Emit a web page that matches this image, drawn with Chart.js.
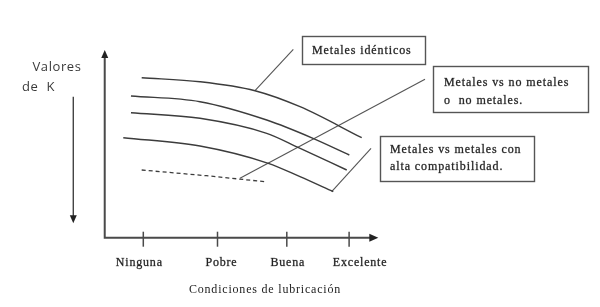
<!DOCTYPE html>
<html>
<head>
<meta charset="utf-8">
<script src="https://cdn.jsdelivr.net/npm/chart.js@4"></script>
<style>
html,body{margin:0;padding:0;background:#fff;}
#c{display:block;}
</style>
</head>
<body>
<canvas id="c" width="600" height="307"></canvas>
<script>
// ---- Data (x: lubrication condition index, y: K value) ----
const categories = ['Ninguna', 'Pobre', 'Buena', 'Excelente'];
const categoryPos = [1, 2.06, 3.05, 3.94];

const curve1X = [0.977, 1.81, 2.596, 3.239, 4.12];
const curve1Y = [3.2, 3.12, 2.94, 2.62, 2.0];
const curve2X = [0.824, 1.81, 2.763, 3.424, 3.943];
const curve2Y = [2.834, 2.72, 2.354, 1.988, 1.654];
const curve3X = [0.824, 1.81, 2.763, 3.21, 3.906];
const curve3Y = [2.5, 2.388, 2.088, 1.808, 1.354];
const curve4X = [0.714, 1.81, 2.786, 3.239, 3.714];
const curve4Y = [2.0, 1.834, 1.488, 1.22, 0.92];
const dashedX = [0.977, 1.9, 2.739];
const dashedY = [1.354, 1.24, 1.12];

// leader lines (curve -> label)
const leaderIdentX = [2.596, 3.143];
const leaderIdentY = [2.94, 3.768];
const leaderNoMetX = [2.381, 5.024];
const leaderNoMetY = [1.188, 3.168];
const leaderCompatX = [3.691, 4.253];
const leaderCompatY = [0.92, 1.788];

const labelIdent = ['Metales idénticos'];
const labelNoMet = ['Metales vs no metales', 'o  no metales.'];
const labelCompat = ['Metales vs metales con', 'alta compatibilidad.'];
const xTitle = 'Condiciones de lubricación';
const yTitle = ['Valores', 'de  K'];

// axis extents in data units
const axisOriginX = 0.449, axisEndX = 4.357;
const axisOriginY = 0, axisEndY = 3.754;
const kArrowX = 0, kArrowTop = 2.82, kArrowBottom = 0.288;

const toPts = (xs, ys) => xs.map((x, i) => ({x: x, y: ys[i]}));

const LINE = '#3c3c3c';
function lineDs(xs, ys, opts) {
  return Object.assign({
    data: toPts(xs, ys), showLine: true, pointRadius: 0, borderColor: LINE,
    borderWidth: 1.4, cubicInterpolationMode: 'monotone', fill: false
  }, opts || {});
}

function serifText(ctx, s, x, y) {
  ctx.fillText(s, x, y);
  ctx.strokeText(s, x, y);
}

const diagramPlugin = {
  id: 'diagram',
  afterDatasetsDraw(chart, args, o) {
    const ctx = chart.ctx;
    const sx = chart.scales.x, sy = chart.scales.y;
    const X = v => sx.getPixelForValue(v), Y = v => sy.getPixelForValue(v);
    ctx.save();
    // axes
    ctx.strokeStyle = '#4a4a4a';
    ctx.fillStyle = '#222';
    ctx.lineWidth = 2;
    const ox = X(axisOriginX), oy = Y(axisOriginY);
    const topY = Y(axisEndY), endX = X(axisEndX);
    ctx.beginPath();
    ctx.moveTo(ox, topY + 6);
    ctx.lineTo(ox, oy);
    ctx.lineTo(endX - 6, oy);
    ctx.stroke();
    // arrowheads
    ctx.beginPath();
    ctx.moveTo(ox, topY); ctx.lineTo(ox - 3.5, topY + 8); ctx.lineTo(ox + 3.5, topY + 8); ctx.closePath(); ctx.fill();
    ctx.beginPath();
    ctx.moveTo(endX, oy); ctx.lineTo(endX - 9, oy - 4); ctx.lineTo(endX - 9, oy + 4); ctx.closePath(); ctx.fill();
    // ticks
    ctx.lineWidth = 1.5;
    categoryPos.forEach(v => {
      ctx.beginPath(); ctx.moveTo(X(v), oy - 6); ctx.lineTo(X(v), oy + 9); ctx.stroke();
    });
    // tick labels
    ctx.font = '12px "Liberation Serif", serif';
    ctx.letterSpacing = '0.8px';
    ctx.textAlign = 'center';
    ctx.textBaseline = 'middle';
    ctx.fillStyle = '#222';
    ctx.strokeStyle = 'rgba(34,34,34,0.6)';
    ctx.lineWidth = 0.45;
    categories.forEach((c, i) => serifText(ctx, c, X(categoryPos[i]) + o.labelShift[i], oy + 25));
    ctx.fillText(xTitle, o.xTitle.x, o.xTitle.y);
    // y label
    ctx.font = '13px "Open Sans", sans-serif';
    ctx.letterSpacing = '0.6px';
    ctx.fillStyle = '#3a3a3a';
    ctx.textAlign = 'center';
    ctx.fillText(yTitle[0], o.yTitle.x, o.yTitle.y);
    ctx.textAlign = 'left';
    ctx.fillText(yTitle[1], o.yTitle.x2, o.yTitle.y2);
    // K arrow
    ctx.strokeStyle = '#444';
    ctx.lineWidth = 1.4;
    const ax = X(kArrowX), at = Y(kArrowTop), ab = Y(kArrowBottom);
    ctx.beginPath(); ctx.moveTo(ax, at); ctx.lineTo(ax, ab - 6); ctx.stroke();
    ctx.fillStyle = '#222';
    ctx.beginPath(); ctx.moveTo(ax, ab); ctx.lineTo(ax - 3.5, ab - 8); ctx.lineTo(ax + 3.5, ab - 8); ctx.closePath(); ctx.fill();
    // boxes
    ctx.font = '12px "Liberation Serif", serif';
    ctx.letterSpacing = '0.9px';
    ctx.textAlign = 'left';
    o.boxes.forEach(b => {
      ctx.fillStyle = '#fff';
      ctx.fillRect(b.l, b.t, b.r - b.l, b.b - b.t);
      ctx.strokeStyle = '#555';
      ctx.lineWidth = 1.4;
      ctx.strokeRect(b.l, b.t, b.r - b.l, b.b - b.t);
      ctx.fillStyle = '#222';
      ctx.strokeStyle = 'rgba(34,34,34,0.6)';
      ctx.lineWidth = 0.45;
      b.lines.forEach((s, i) => serifText(ctx, s, b.tx, b.ty[i]));
    });
    ctx.restore();
  }
};

new Chart(document.getElementById('c'), {
  type: 'scatter',
  data: {
    datasets: [
      lineDs(curve1X, curve1Y),
      lineDs(curve2X, curve2Y),
      lineDs(curve3X, curve3Y),
      lineDs(curve4X, curve4Y),
      lineDs(dashedX, dashedY, {borderDash: [4, 3], cubicInterpolationMode: 'default', tension: 0, borderWidth: 1.3}),
      lineDs(leaderIdentX, leaderIdentY, {cubicInterpolationMode: 'default', tension: 0, borderWidth: 1.1, borderColor: '#555'}),
      lineDs(leaderNoMetX, leaderNoMetY, {cubicInterpolationMode: 'default', tension: 0, borderWidth: 1.1, borderColor: '#555'}),
      lineDs(leaderCompatX, leaderCompatY, {cubicInterpolationMode: 'default', tension: 0, borderWidth: 1.1, borderColor: '#555'})
    ]
  },
  options: {
    responsive: false,
    animation: false,
    devicePixelRatio: 1,
    layout: {padding: 0},
    scales: {
      x: {type: 'linear', min: -1.047, max: 7.524, display: false},
      y: {type: 'linear', min: -1.386, max: 4.754, display: false}
    },
    plugins: {
      legend: {display: false},
      tooltip: {enabled: false},
      diagram: {
        labelShift: [-4, 4, 1, 11],
        xTitle: {x: 265, y: 290},
        yTitle: {x: 57, y: 67, x2: 22, y2: 87},
        boxes: [
          {l: 302.5, t: 36.5, r: 425.5, b: 64.5, tx: 312, ty: [51], lines: labelIdent},
          {l: 433.5, t: 66.5, r: 588.5, b: 112.5, tx: 444, ty: [83, 101], lines: labelNoMet},
          {l: 380.5, t: 136.5, r: 534.5, b: 181.5, tx: 390, ty: [150, 167], lines: labelCompat}
        ]
      }
    }
  }
  ,plugins: [diagramPlugin]
});
</script>
</body>
</html>
